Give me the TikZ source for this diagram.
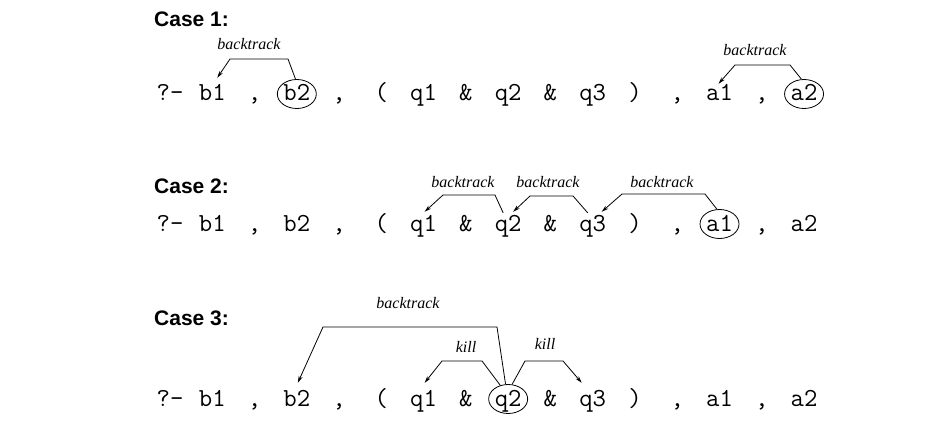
\documentclass[tikz,border=0pt]{standalone}
\usepackage{fontspec}
\usepackage{tikz}
\usetikzlibrary{arrows.meta,shapes.geometric}
\setmainfont{Liberation Serif}
\newfontfamily\casefont{Liberation Sans}
\newcommand{\goalrow}[2]{%
  \foreach \t [count=\i] in {?-,b1,{,},b2,{,},{(},q1,\&,q2,\&,q3,{)},{,},a1,{,},a2}
    \node[tok] (#1-\i) at ({170+42.27*(\i-1)},#2) {\t};}

\begin{document}
\begin{tikzpicture}[x=1pt,y=-1pt,
    tok/.style={font=\ttfamily\fontsize{26}{30}\selectfont,inner sep=0pt,anchor=base,
      text height=18pt,text depth=4pt},
    ring/.style={ellipse,draw,line width=0.8pt,minimum width=39pt,minimum height=29pt,inner sep=0pt},
    case/.style={font=\casefont\bfseries\fontsize{21}{25}\selectfont,anchor=base west,inner sep=0pt},
    note/.style={font=\itshape\fontsize{16}{19}\selectfont,anchor=base,inner sep=0pt},
    arr/.style={line width=0.8pt,-{Stealth[length=7pt,width=4pt]}}]
    \useasboundingbox (0,0) rectangle (952,425);

    \node[case] (case1) at (154,27) {Case 1:};
    \node[case] (case2) at (154,193) {Case 2:};
    \node[case] (case3) at (154,325) {Case 3:};

    \goalrow{r1}{101}
    \goalrow{r2}{231}
    \goalrow{r3}{406}

    \node[ring] (ring1) at (r1-4) {};
    \node[ring] (ring2) at (r1-16) {};
    \node[ring] (ring3) at (r2-14) {};
    \node[ring] (ring4) at (r3-9) {};

    % case 1
    \node[note] (bt1) at (249,50) {backtrack};
    \node[note] (bt2) at (755,56) {backtrack};
    \draw[arr] (ring1.95) -- (288,59) -- (230,59) -- ([shift={(5,-5)}]r1-2.north);
    \draw[arr] (ring2.100) -- (790,65) -- (735,65) -- ([shift={(-1,1)}]r1-14.north);

    % case 2
    \node[note] (bt3) at (463,187) {backtrack};
    \node[note] (bt4) at (548,187) {backtrack};
    \node[note] (bt5) at (662,187) {backtrack};
    \draw[arr] ([shift={(-5,0)}]r2-9.north) -- (495,195) -- (443,195) -- ([shift={(1,-1)}]r2-7.north);
    \draw[arr] ([shift={(-5,0)}]r2-11.north) -- (573,196) -- (530,196) -- ([shift={(5,-1)}]r2-9.north);
    \draw[arr] (ring3.100) -- (705,194) -- (622,194) -- ([shift={(9,-1)}]r2-11.north);

    % case 3
    \node[note] (bt6) at (408,308) {backtrack};
    \node[note] (kill1) at (466,352) {kill};
    \node[note] (kill2) at (545,349) {kill};
    \draw[arr] (ring4.100) -- (497,327) -- (323,327) -- ([shift={(1,-5)}]r3-4.north);
    \draw[arr] (ring4.120) -- (482,361) -- (442,361) -- ([shift={(1,-5)}]r3-7.north);
    \draw[arr] (ring4.75) -- (525,361) -- (563,361) -- ([shift={(-11,-5)}]r3-11.north);
\end{tikzpicture}
\end{document}
